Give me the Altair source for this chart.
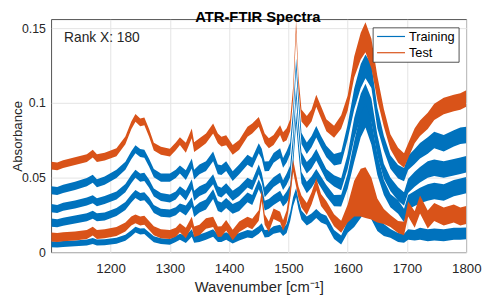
import altair as alt
import pandas as pd

BLUE = "#0072BD"
ORANGE = "#D95319"

SERIES = ["Training", "Test"]
TITLE = "ATR-FTIR Spectra"
NOTE = "Rank X: 180"
X_TICKS = [1200, 1300, 1400, 1500, 1600, 1700, 1800]
Y_TICKS = [0, 0.05, 0.1, 0.15]

WN = [1100, 1110, 1120, 1140, 1160,
      1170, 1177, 1190, 1210, 1225,
      1235, 1242, 1250, 1257, 1265,
      1273, 1285, 1300, 1310, 1317,
      1327, 1337, 1341, 1350, 1361,
      1373, 1381, 1387, 1395, 1406,
      1417, 1431, 1439, 1450, 1455,
      1460, 1467, 1475, 1486, 1491,
      1497, 1503, 1508, 1513, 1517,
      1522, 1531, 1539, 1547, 1555,
      1564, 1577, 1589, 1600, 1611,
      1622, 1630, 1640, 1650, 1661,
      1672, 1685, 1695, 1702, 1713,
      1722, 1735, 1746, 1762, 1779,
      1790, 1800]

# Test band (upper)
T1 = [.058, .0575, .059, .061, .063,
      .066, .063, .064, .067, .075,
      .085, .090, .087, .0877, .080,
      .0708, .068, .0668, .071, .0745,
      .070, .0796, .0704, .073, .0763,
      .0829, .0763, .0741, .075, .0686,
      .0719, .0807, .0829, .0873, .082,
      .0763, .073, .0752, .0818, .077,
      .079, .085, .107, .1515, .1136,
      .0916, .0873, .0916, .1015, .0938,
      .085, .0807, .0873, .100, .124,
      .138, .144, .133, .110, .090,
      .074, .065, .0615, .068, .078,
      .083, .088, .094, .098, .100,
      .101, .103]
# Training bands
B2 = [.0416, .041, .0425, .0445, .047,
      .0493, .0462, .048, .0525, .058,
      .065, .069, .0665, .066, .060,
      .053, .050, .050, .0525, .0555,
      .0517, .0595, .052, .0555, .0577,
      .0642, .0555, .055, .0577, .051,
      .0555, .062, .060, .0697, .066,
      .0575, .0577, .0632, .0664, .0599,
      .064, .0697, .0916, .126, .1026,
      .0763, .0697, .0741, .0807, .0741,
      .0675, .062, .0632, .0807, .1026,
      .118, .1245, .118, .090, .073,
      .0605, .054, .052, .0599, .0642,
      .068, .0715, .0752, .073, .0763,
      .078, .0785]
B3 = [.0296, .029, .0305, .032, .034,
      .0355, .0335, .035, .038, .043,
      .049, .0526, .050, .0505, .046,
      .040, .037, .036, .038, .0415,
      .038, .0456, .0379, .041, .043,
      .0489, .041, .040, .043, .0379,
      .041, .0467, .045, .0555, .050,
      .0401, .0434, .047, .050, .045,
      .049, .0543, .075, .107, .085,
      .0632, .0566, .060, .0653, .059,
      .052, .0478, .0456, .0609, .0829,
      .0982, .1048, .095, .0719, .0543,
      .0456, .039, .0357, .0445, .0489,
      .052, .0555, .0566, .0555, .057,
      .058, .059]
B4 = [.0199, .0195, .0205, .022, .0235,
      .0252, .0235, .024, .027, .031,
      .036, .039, .037, .0375, .034,
      .029, .0265, .026, .0275, .030,
      .028, .0336, .027, .030, .032,
      .039, .031, .030, .033, .0291,
      .031, .0368, .035, .0456, .041,
      .0313, .0324, .035, .0379, .034,
      .037, .0412, .062, .090, .071,
      .050, .0434, .047, .052, .047,
      .0412, .0346, .0346, .0478, .0675,
      .085, .0916, .080, .0588, .0434,
      .0346, .0303, .0247, .0336, .036,
      .038, .040, .041, .040, .043,
      .044, .045]
# Test band (lower)
B5 = [.0103, .0099, .0104, .011, .012,
      .0142, .012, .0125, .014, .017,
      .021, .0224, .021, .0215, .018,
      .0145, .0125, .012, .0135, .0165,
      .013, .0204, .0138, .015, .0193,
      .0204, .0138, .014, .0182, .0116,
      .0171, .0204, .019, .0247, .0379,
      .022, .0171, .0258, .0236, .018,
      .024, .040, .058, .048, .040,
      .034, .029, .036, .0456, .035,
      .0303, .0215, .0171, .026, .036,
      .040, .040, .036, .028, .024,
      .021, .017, .016, .029, .022,
      .032, .022, .027, .024, .026,
      .024, .025]
# Training band (lowest)
B6 = [.0054, .0052, .0056, .006, .0066,
      .0076, .0066, .0068, .0078, .0098,
      .0128, .0152, .014, .0142, .0115,
      .0088, .0075, .007, .009, .0105,
      .0088, .013, .009, .0095, .011,
      .013, .0095, .0095, .011, .0085,
      .0105, .0125, .012, .015, .017,
      .0125, .0127, .015, .016, .0135,
      .016, .024, .034, .040, .032,
      .025, .021, .023, .026, .023,
      .0215, .012, .0083, .0171, .023,
      .030, .0346, .028, .0193, .015,
      .0127, .010, .0094, .012, .0115,
      .0125, .0115, .012, .0115, .0125,
      .0125, .0127]

# half spread of each band of spectra
HW_T1 = [.0026] * 20 + [.0033] * 20 + [.004] * 12 + \
        [.0045, .005, .007, .009, .010, .010, .008, .006, .005, .005] + \
        [.0048, .005, .005, .0052, .0055, .0055, .0055, .0055, .0055, .0055]
HW_B = [.0027] * 20 + [.0033] * 20 + [.0038] * 12 + \
       [.004, .005, .007, .008, .008, .008, .007, .005, .0045, .0045] + \
       [.0045, .0048, .005, .0052, .0055, .0055, .0055, .0055, .0055, .0055]
HW_B5 = [.003] * 20 + [.0035] * 20 + [.004] * 12 + \
        [.004, .006, .012, .016, .017, .014, .008, .005, .004, .004] + \
        [.0045, .005, .0055, .006, .006, .006, .006, .006, .006, .006]
HW_B6 = [.002] * 20 + [.0025] * 20 + [.003] * 12 + \
        [.003, .004, .006, .007, .007, .006, .005, .004, .003, .003] + \
        [.003, .0035, .0035, .004, .004, .004, .004, .004, .004, .004]

BANDS = [
    ("b2", SERIES[0], B2, HW_B),
    ("b3", SERIES[0], B3, HW_B),
    ("b4", SERIES[0], B4, HW_B),
    ("b6", SERIES[0], B6, HW_B6),
    ("t1", SERIES[1], T1, HW_T1),
    ("b5", SERIES[1], B5, HW_B5),
]

rows = []
for name, series, vals, hw in BANDS:
    assert len(vals) == len(WN) and len(hw) == len(WN), name
    for w, v, h in zip(WN, vals, hw):
        rows.append({"band": name, "series": series, "wn": w, "lo": v - h, "hi": v + h})
df = pd.DataFrame(rows)

W, H = 422, 237
FONT = "Liberation Sans"
INK = "#262626"

x_enc = alt.X("wn:Q",
              scale=alt.Scale(domain=[1100, 1800], nice=False, zero=False),
              axis=alt.Axis(values=X_TICKS, title="Wavenumber [cm⁻¹]", format="d",
                            labelFlush=False, labelPadding=9, titlePadding=5))
y_enc = alt.Y("lo:Q",
              scale=alt.Scale(domain=[0, 0.156], nice=False),
              axis=alt.Axis(values=Y_TICKS, format="~g", title="Absorbance",
                            labelPadding=6, labelFontSize=12.5, titleFontSize=13.5,
                            titleX=-30.5, titleY=H / 2,
                            titleBaseline="alphabetic", titleAlign="center", titleAngle=270))

train = alt.Chart(df[df.series == SERIES[0]]).mark_area(
    color=BLUE, interpolate="linear", clip=True).encode(
    x=x_enc, y=y_enc, y2="hi:Q", detail="band:N")
test = alt.Chart(df[df.series == SERIES[1]]).mark_area(
    color=ORANGE, interpolate="linear", clip=True).encode(
    x=x_enc, y=y_enc, y2="hi:Q", detail="band:N")

one = pd.DataFrame({"t": [TITLE]})
title = alt.Chart(one).mark_text(font=FONT, fontSize=15, fontWeight="bold", color="black",
                                 align="center", baseline="alphabetic").encode(
    text="t:N", x=alt.value(W / 2 - 1), y=alt.value(2.8))
note = alt.Chart(pd.DataFrame({"t": [NOTE]})).mark_text(
    font=FONT, fontSize=14, color=INK, align="left", baseline="alphabetic").encode(
    text="t:N", x=alt.value(13), y=alt.value(23.5))

leg_box = alt.Chart(one).mark_rect(fill="white", stroke=INK, strokeWidth=0.8).encode(
    x=alt.value(327.3), x2=alt.value(414.7), y=alt.value(8.7), y2=alt.value(43.7))
leg_rule1 = alt.Chart(one).mark_rule(color=BLUE, strokeWidth=1.2).encode(
    x=alt.value(331.3), x2=alt.value(359.7), y=alt.value(17.5))
leg_rule2 = alt.Chart(one).mark_rule(color=ORANGE, strokeWidth=1.2).encode(
    x=alt.value(331.3), x2=alt.value(359.7), y=alt.value(34))
leg_t1 = alt.Chart(pd.DataFrame({"t": [SERIES[0]]})).mark_text(
    font=FONT, fontSize=13, color="black", align="left", baseline="middle").encode(
    text="t:N", x=alt.value(363.7), y=alt.value(18))
leg_t2 = alt.Chart(pd.DataFrame({"t": [SERIES[1]]})).mark_text(
    font=FONT, fontSize=13, color="black", align="left", baseline="middle").encode(
    text="t:N", x=alt.value(363.7), y=alt.value(34.5))

chart = alt.layer(train, test, title, note, leg_box, leg_rule1, leg_rule2, leg_t1, leg_t2).properties(
    width=W, height=H,
    padding={"left": 44, "top": 9, "right": 16, "bottom": 46},
    autosize=alt.AutoSizeParams(type="none"),
).configure_axis(
    labelFont=FONT, titleFont=FONT, labelFontSize=13.5, titleFontSize=15,
    labelColor=INK, titleColor=INK, titleFontWeight="normal",
    gridColor="#e3e3e3", gridWidth=1, domain=False, ticks=False,
).configure_view(stroke=INK, strokeWidth=0.8)

chart.save("out.html", embed_options={"renderer": "svg", "actions": False})
